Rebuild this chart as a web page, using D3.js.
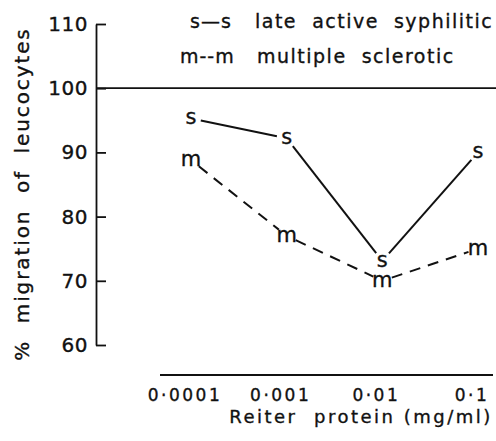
<!DOCTYPE html>
<html>
<head>
<meta charset="utf-8">
<script src="https://cdn.jsdelivr.net/npm/d3@7"></script>
<style>
  body { margin: 0; background: #fff; }
  text { font-family: "DejaVu Sans", sans-serif; fill: #111; stroke: #111; stroke-width: 0.35px; white-space: pre; }
</style>
</head>
<body>
<svg id="chart"></svg>
<script>
// data
var doses = [0.0001, 0.001, 0.01, 0.1];
var doseLabels = ["0·0001", "0·001", "0·01", "0·1"];
var syphilitic = [95.3, 92.2, 73.1, 90.0];
var sclerotic = [88.8, 77.0, 70.0, 75.0];
var yTicks = [60, 70, 80, 90, 100, 110];
var legendKeys = ["s—s", "m--m"];
var legendNames = ["late  active  syphilitic", "multiple  sclerotic"];

var width = 496, height = 441;

var svg = d3.select("#chart")
    .attr("width", width)
    .attr("height", height);

// scales
var x = d3.scaleLog().domain([0.0001, 0.1]).range([191, 478]);
var y = d3.scaleLinear().domain([60, 110]).range([345, 24]);

// y axis, ticks pointing inwards
var yAxis = svg.append("g")
    .attr("transform", "translate(96,0)")
    .call(d3.axisLeft(y).tickValues(yTicks).tickSizeInner(-10).tickSizeOuter(0).tickPadding(8));
yAxis.select(".domain").attr("stroke", "#111").attr("stroke-width", 1.8);
yAxis.selectAll(".tick line").attr("stroke", "#111").attr("stroke-width", 1.8);
yAxis.selectAll(".tick text")
    .style("font-size", "20px")
    .style("letter-spacing", "0.5px")
    .attr("fill", "#111");

// 100 % reference line
svg.append("line")
    .attr("x1", 96).attr("x2", width)
    .attr("y1", y(100)).attr("y2", y(100))
    .attr("stroke", "#111").attr("stroke-width", 1.8);

// x axis: plain line, no ticks
svg.append("line")
    .attr("x1", x(0.0001) - 31).attr("x2", x(0.1) + 15)
    .attr("y1", 375).attr("y2", 375)
    .attr("stroke", "#111").attr("stroke-width", 1.8);

svg.selectAll(".xlab")
    .data(doses)
    .enter().append("text")
    .attr("class", "xlab")
    .attr("x", function(d) { return x(d) - 6; })
    .attr("y", 401)
    .attr("text-anchor", "middle")
    .style("font-size", "17px")
    .style("letter-spacing", "2.5px")
    .text(function(d, i) { return doseLabels[i]; });

// axis titles
svg.append("text")
    .attr("x", 361).attr("y", 423)
    .attr("text-anchor", "middle")
    .style("font-size", "18px")
    .style("letter-spacing", "2.5px")
    .text("Reiter  protein (mg/ml)");

svg.append("text")
    .attr("transform", "translate(29,194) rotate(-90)")
    .attr("text-anchor", "middle")
    .style("font-size", "20px")
    .style("letter-spacing", "1.9px")
    .text("%  migration  of  leucocytes");

// legend
var legX = [190, 180], labX = [255, 257], legY = [28, 63];
legendKeys.forEach(function(k, i) {
  svg.append("text").attr("x", legX[i]).attr("y", legY[i])
      .style("font-size", "19px").style("letter-spacing", "1px").text(k);
  svg.append("text").attr("x", labX[i]).attr("y", legY[i])
      .style("font-size", "19px").style("letter-spacing", "1.5px").text(legendNames[i]);
});

// series: letters at the points, lines with gaps round the letters
function drawSeries(values, letter, dash) {
  var pts = values.map(function(v, i) { return [x(doses[i]), y(v)]; });
  var gap = 10;
  for (var i = 0; i < pts.length - 1; i++) {
    var a = pts[i], b = pts[i + 1];
    var dx = b[0] - a[0], dy = b[1] - a[1], len = Math.sqrt(dx * dx + dy * dy);
    var ux = dx / len, uy = dy / len;
    svg.append("line")
        .attr("x1", a[0] + ux * gap).attr("y1", a[1] + uy * gap)
        .attr("x2", b[0] - ux * gap).attr("y2", b[1] - uy * gap)
        .attr("stroke", "#111").attr("stroke-width", 2)
        .attr("stroke-dasharray", dash);
  }
  svg.selectAll(".pt-" + letter)
      .data(pts)
      .enter().append("text")
      .attr("x", function(d) { return d[0]; })
      .attr("y", function(d) { return d[1]; })
      .attr("dy", "0.28em")
      .attr("text-anchor", "middle")
      .style("font-size", "21px")
      .text(letter);
}

drawSeries(syphilitic, "s", null);
drawSeries(sclerotic, "m", "11,8");
</script>
</body>
</html>
